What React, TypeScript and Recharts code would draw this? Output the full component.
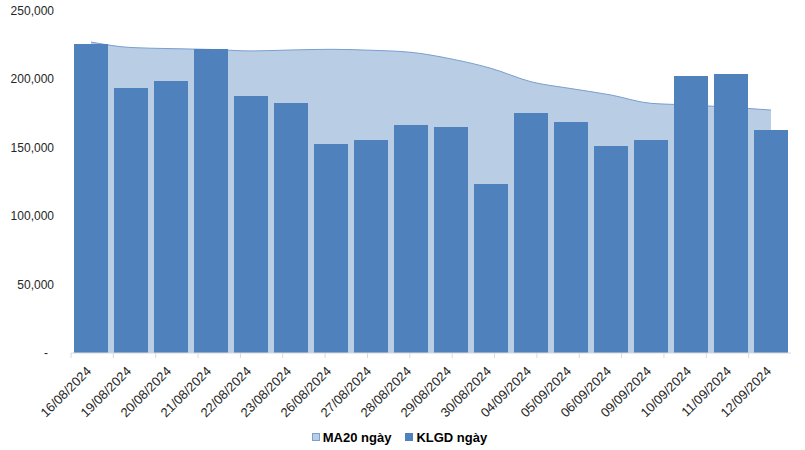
import { ComposedChart, Bar, Area, XAxis, YAxis, Legend } from 'recharts'

const dates = [
  '16/08/2024', '19/08/2024', '20/08/2024', '21/08/2024', '22/08/2024', '23/08/2024',
  '26/08/2024', '27/08/2024', '28/08/2024', '29/08/2024', '30/08/2024', '04/09/2024',
  '05/09/2024', '06/09/2024', '09/09/2024', '10/09/2024', '11/09/2024', '12/09/2024'
]

const klgd = [
  225900, 193700, 198800, 222200, 187900, 182700, 152800, 155700, 166700,
  165200, 123500, 175400, 168900, 151300, 155700, 202500, 203900, 163000
]

const ma20 = [
  227300, 223300, 222500, 221900, 220800, 221500, 222000, 221300, 219800,
  215000, 208100, 198300, 193300, 188600, 182500, 181300, 179600, 177600
]

const yTicks = [0, 50000, 100000, 150000, 200000, 250000]
const boundaryTicks = dates.map((_, i) => i).concat([dates.length])

const data = dates.map((d, i) => ({ date: d, klgd: klgd[i], ma20: ma20[i] }))

const BAR = '#4F81BD'
const AREA = '#B9CDE5'
const FONT = 'Arial, "Liberation Sans", sans-serif'

function YTick({ x, y, payload }: any) {
  const v = payload.value
  return (
    <text x={v === 0 ? x - 6 : x} y={y} dy={4} textAnchor="end" fontSize={12} fontFamily={FONT} fill="#262626">
      {v === 0 ? '-' : v.toLocaleString('en-US')}
    </text>
  )
}

function XTick({ x, y, payload }: any) {
  const ax = x + 1
  const ay = y + 5
  return (
    <text
      x={ax}
      y={ay}
      textAnchor="end"
      fontSize={13}
      fontFamily={FONT}
      fill="#262626"
      transform={`rotate(-45, ${ax}, ${ay})`}
    >
      {payload.value}
    </text>
  )
}

function LegendBox() {
  const items = [
    { label: 'MA20 ngày', color: AREA, border: '#7A9FD0' },
    { label: 'KLGD ngày', color: BAR, border: BAR }
  ]
  return (
    <div style={{ height: 20, display: 'flex', justifyContent: 'center', alignItems: 'center', gap: 14, fontFamily: FONT, fontSize: 13, fontWeight: 'bold', color: '#000' }}>
      {items.map(it => (
        <div key={it.label} style={{ display: 'flex', alignItems: 'center', gap: 3 }}>
          <span style={{ display: 'inline-block', width: 6, height: 6, background: it.color, border: `1px solid ${it.border}` }} />
          <span>{it.label}</span>
        </div>
      ))}
    </div>
  )
}

export default function App() {
  return (
    <div style={{ position: 'absolute', left: 0, top: 0, background: '#fff' }}>
      <ComposedChart
        width={805}
        height={450}
        data={data}
        margin={{ top: 11, right: 14, bottom: 3, left: 8 }}
        barCategoryGap="7.5%"
      >
        <XAxis
          xAxisId="a"
          type="number"
          domain={[0, dates.length]}
          ticks={boundaryTicks}
          height={6}
          axisLine={{ stroke: '#D9D9D9' }}
          tickLine={{ stroke: '#D9D9D9' }}
          tickSize={5}
          tick={() => <g />}
        />
        <XAxis
          xAxisId="b"
          dataKey="date"
          height={68}
          axisLine={false}
          tickLine={false}
          interval={0}
          tick={<XTick />}
        />
        <YAxis
          width={63}
          domain={[0, 250000]}
          ticks={yTicks}
          axisLine={false}
          tickLine={false}
          tickSize={0}
          tickMargin={17}
          tick={<YTick />}
        />
        <Area
          xAxisId="b"
          type="monotone"
          dataKey="ma20"
          name="MA20 ngày"
          fill={AREA}
          fillOpacity={1}
          stroke="#7A9FD0"
          strokeWidth={1}
          isAnimationActive={false}
        />
        <Bar xAxisId="b" dataKey="klgd" name="KLGD ngày" fill={BAR} isAnimationActive={false} />
        <Legend verticalAlign="bottom" content={<LegendBox />} />
      </ComposedChart>
    </div>
  )
}
